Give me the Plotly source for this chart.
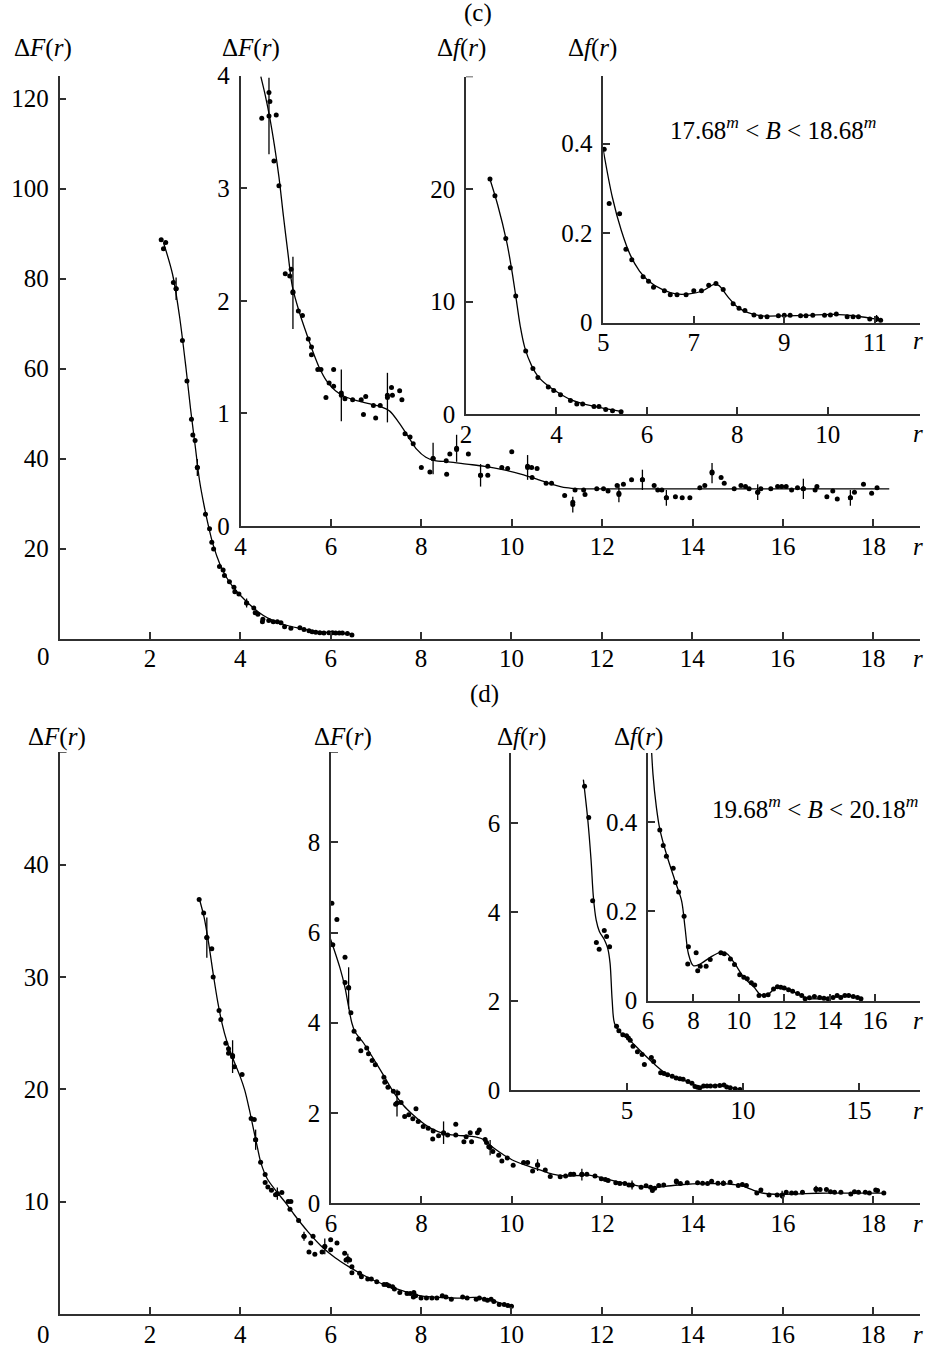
import plotly.graph_objects as go

# ---------------------------------------------------------------- data ----
# (c) outer: Delta F(r)
c1_x = [2.25, 2.30, 2.35, 2.52, 2.58, 2.72, 2.82, 2.92, 2.95, 3.00, 3.05, 3.23, 3.32, 3.37, 3.41,
        3.54, 3.62, 3.65, 3.76, 3.86, 3.88, 3.97, 4.14, 4.30, 4.33, 4.39, 4.50, 4.49, 4.63, 4.73,
        4.82, 4.90, 4.98, 5.12, 5.32, 5.41, 5.52, 5.59, 5.67, 5.76, 5.85, 5.96, 6.04, 6.11, 6.19,
        6.26, 6.37, 6.47]
c1_y = [88.6, 86.6, 88.0, 79.1, 77.7, 66.2, 57.2, 48.7, 45.2, 44.0, 38.0, 27.6, 24.4, 21.4, 19.9,
        16.0, 15.2, 14.0, 12.6, 11.4, 10.4, 9.9, 7.9, 6.8, 5.7, 5.4, 4.3, 3.7, 4.0, 3.7,
        3.7, 3.5, 2.6, 2.3, 2.4, 2.0, 1.7, 1.5, 1.4, 1.3, 1.2, 1.3, 1.3, 1.2, 1.2,
        1.2, 1.1, 0.8]
c1_err_x = [2.58, 3.05, 4.14]
c1_err_y = [77.7, 38.0, 7.9]
c1_err = [2.5, 1.9, 1.0]
c1_fit_x = [2.30, 2.5, 2.65, 2.8, 2.9, 3.0, 3.1, 3.2, 3.3, 3.4, 3.55, 3.7, 3.85, 4.0, 4.2, 4.4,
            4.6, 4.8, 5.0, 5.3, 5.6, 5.9, 6.2, 6.5]
c1_fit_y = [88.0, 81.0, 72.0, 60.0, 51.0, 43.0, 35.0, 29.5, 24.8, 20.8, 16.5, 13.5, 11.3, 9.6,
            7.6, 5.9, 4.6, 3.7, 3.0, 2.3, 1.7, 1.35, 1.15, 0.95]

# (c) inset: Delta F(r), r > 4
c2_x = [4.47, 4.63, 4.65, 4.79, 4.74, 4.85, 4.99, 5.09, 5.12, 5.16, 5.28, 5.37, 5.50, 5.57, 5.57,
        5.71, 5.78, 5.89, 5.96, 6.06, 6.06, 6.23, 6.31, 6.48, 6.67, 6.72, 6.77, 6.94, 6.99, 7.09,
        7.25, 7.36, 7.34, 7.52, 7.57, 7.64, 7.75, 7.82, 8.00, 8.19, 8.26, 8.56, 8.55, 8.63, 8.78,
        9.04, 9.31, 9.47, 9.47, 9.78, 9.91, 10.00, 10.35, 10.44, 10.45, 10.56, 10.76, 10.88, 11.17,
        11.35, 11.40, 11.59, 11.62, 11.88, 12.03, 12.13, 12.33, 12.37, 12.47, 12.65, 12.89, 13.15,
        13.23, 13.32, 13.42, 13.62, 13.77, 13.94, 14.16, 14.27, 14.43, 14.63, 14.70, 14.92, 15.07,
        15.17, 15.25, 15.44, 15.51, 15.73, 15.88, 15.97, 16.07, 16.19, 16.32, 16.45, 16.71, 16.75,
        16.97, 17.10, 17.20, 17.49, 17.58, 17.78, 17.96, 18.08]
c2_y = [3.62, 3.85, 3.77, 3.65, 3.24, 3.02, 2.24, 2.22, 2.28, 2.08, 1.91, 1.87, 1.66, 1.59, 1.52,
        1.39, 1.39, 1.14, 1.27, 1.39, 1.24, 1.18, 1.13, 1.12, 1.12, 0.99, 1.15, 1.07, 0.96, 1.07,
        1.16, 1.16, 1.23, 1.20, 1.12, 0.82, 0.79, 0.73, 0.52, 0.48, 0.60, 0.46, 0.58, 0.64, 0.68,
        0.64, 0.45, 0.45, 0.53, 0.52, 0.51, 0.66, 0.53, 0.52, 0.43, 0.51, 0.38, 0.38, 0.27,
        0.21, 0.32, 0.32, 0.28, 0.33, 0.33, 0.31, 0.36, 0.28, 0.37, 0.41, 0.41, 0.36,
        0.32, 0.32, 0.25, 0.26, 0.25, 0.25, 0.34, 0.36, 0.48, 0.43, 0.38, 0.33, 0.36,
        0.35, 0.33, 0.30, 0.33, 0.33, 0.35, 0.35, 0.35, 0.32, 0.34, 0.33, 0.32, 0.35,
        0.26, 0.31, 0.24, 0.25, 0.30, 0.37, 0.29, 0.34]
c2_err_x = [4.63, 5.16, 6.23, 7.25, 8.26, 8.78, 9.31, 10.35, 11.35, 12.37, 12.89, 13.42, 14.43,
            15.44, 16.45, 17.49]
c2_err_y = [3.64, 2.07, 1.16, 1.14, 0.60, 0.69, 0.45, 0.52, 0.19, 0.29, 0.41, 0.25, 0.47,
            0.30, 0.33, 0.25]
c2_err = [0.34, 0.32, 0.23, 0.22, 0.14, 0.12, 0.10, 0.11, 0.07, 0.08, 0.09, 0.07, 0.09,
          0.07, 0.09, 0.07]
c2_fit_x = [4.45, 4.55, 4.65, 4.75, 4.85, 4.95, 5.05, 5.15, 5.3, 5.45, 5.6, 5.75, 5.9, 6.1, 6.3,
            6.6, 6.9, 7.1, 7.3, 7.5, 7.7, 7.9, 8.1, 8.3, 8.6, 9.0, 9.4, 9.8, 10.2, 10.6, 10.9,
            11.2, 11.5, 12.0, 13.0, 14.0, 15.0, 16.0, 17.0, 18.35]
c2_fit_y = [3.99, 3.82, 3.62, 3.38, 3.10, 2.75, 2.42, 2.12, 1.90, 1.72, 1.55, 1.40, 1.29, 1.20,
            1.15, 1.11, 1.08, 1.06, 1.02, 0.92, 0.80, 0.68, 0.61, 0.58, 0.57, 0.55, 0.53, 0.50,
            0.46, 0.41, 0.37, 0.34, 0.33, 0.33, 0.33, 0.33, 0.33, 0.33, 0.33, 0.33]

# (c) inset: Delta f(r)
c3_x = [2.53, 2.64, 2.88, 2.98, 3.10, 3.32, 3.48, 3.59, 3.82, 3.94, 4.09, 4.31, 4.45, 4.58, 4.83,
        4.94, 5.09, 5.24, 5.43]
c3_y = [20.9, 19.4, 15.6, 13.0, 10.5, 5.6, 4.05, 3.24, 2.4, 2.1, 1.71, 1.2, 0.9, 0.9, 0.66,
        0.66, 0.39, 0.3, 0.21]
c3_fit_x = [2.52, 2.7, 2.9, 3.0, 3.1, 3.2, 3.3, 3.45, 3.6, 3.8, 4.0, 4.3, 4.6, 5.0, 5.45]
c3_fit_y = [21.0, 18.6, 15.3, 13.1, 10.5, 7.8, 5.9, 4.3, 3.3, 2.55, 2.0, 1.3, 0.9, 0.55, 0.22]

# (c) inset: Delta f(r), r > 5
c4_x = [5.02, 5.13, 5.36, 5.50, 5.63, 5.88, 6.00, 6.11, 6.35, 6.48, 6.63, 6.83, 7.00, 7.17, 7.33,
        7.49, 7.65, 7.87, 8.00, 8.13, 8.33, 8.48, 8.62, 8.87, 9.00, 9.13, 9.36, 9.48, 9.63, 9.89,
        10.02, 10.15, 10.39, 10.52, 10.64, 10.89, 11.04, 11.13]
c4_y = [0.387, 0.266, 0.243, 0.164, 0.140, 0.102, 0.092, 0.079, 0.071, 0.062, 0.062, 0.062,
        0.071, 0.071, 0.083, 0.087, 0.074, 0.042, 0.032, 0.027, 0.017, 0.013, 0.013, 0.015,
        0.016, 0.016, 0.015, 0.015, 0.016, 0.016, 0.017, 0.019, 0.013, 0.013, 0.013, 0.008,
        0.008, 0.005]
c4_err_x = [11.04]
c4_err_y = [0.009]
c4_err = [0.008]
c4_fit_x = [5.0, 5.2, 5.4, 5.6, 5.8, 6.0, 6.3, 6.6, 6.9, 7.2, 7.45, 7.55, 7.75, 7.95, 8.2, 8.5,
            9.0, 9.5, 10.1, 10.6, 11.0, 11.15]
c4_fit_y = [0.385, 0.28, 0.205, 0.15, 0.115, 0.093, 0.074, 0.064, 0.064, 0.071, 0.085, 0.083,
            0.058, 0.036, 0.022, 0.015, 0.015, 0.016, 0.018, 0.014, 0.008, 0.005]

# (d) outer: Delta F(r)
d1_x = [3.09, 3.19, 3.26, 3.37, 3.40, 3.53, 3.57, 3.68, 3.74, 3.74, 3.83, 3.87, 4.04, 4.24, 4.31,
        4.34, 4.45, 4.55, 4.55, 4.61, 4.69, 4.78, 4.82, 4.92, 5.06, 5.12, 5.10, 5.29, 5.41, 5.61,
        5.56, 5.52, 5.65, 5.81, 5.87, 6.00, 6.00, 6.14, 6.31, 6.34, 6.42, 6.47, 6.47, 6.64, 6.68,
        6.82, 6.90, 7.02, 7.18, 7.24, 7.29, 7.37, 7.41, 7.53, 7.69, 7.76, 7.84, 7.83, 7.88, 8.00,
        8.12, 8.24, 8.35, 8.47, 8.55, 8.67, 8.92, 9.02, 9.22, 9.29, 9.40, 9.47, 9.55, 9.61, 9.73,
        9.84, 9.92, 10.00]
d1_y = [36.9, 35.7, 33.5, 32.5, 30.0, 27.0, 26.2, 24.1, 23.6, 23.2, 23.0, 22.0, 21.3, 17.4, 17.3,
        15.5, 13.5, 12.4, 11.7, 11.3, 11.0, 10.6, 10.7, 10.8, 10.0, 10.0, 9.3, 8.3, 6.9, 6.9,
        6.3, 5.5, 5.3, 5.5, 6.0, 6.6, 5.7, 6.3, 5.4, 4.8, 4.8, 4.2, 3.65, 3.6, 3.3,
        3.1, 3.1, 2.85, 2.6, 2.6, 2.5, 2.4, 2.2, 1.9, 1.8, 1.8, 1.9, 1.5, 1.6, 1.4,
        1.4, 1.4, 1.4, 1.6, 1.5, 1.3, 1.5, 1.4, 1.3, 1.4, 1.3, 1.2, 1.3, 1.1, 0.83,
        0.83, 0.74, 0.68]
d1_err_x = [3.26, 3.83, 4.34, 4.82, 5.41, 5.87, 6.38]
d1_err_y = [33.5, 22.9, 15.5, 10.7, 6.9, 6.0, 4.9]
d1_err = [1.8, 1.45, 0.9, 0.55, 0.4, 0.7, 0.45]
d1_fit_x = [3.09, 3.2, 3.3, 3.4, 3.5, 3.6, 3.7, 3.85, 4.0, 4.1, 4.2, 4.3, 4.38, 4.46, 4.6, 4.8,
            5.0, 5.2, 5.5, 5.8, 6.1, 6.4, 6.7, 7.0, 7.3, 7.6, 8.0, 8.5, 8.8, 9.2, 9.5, 9.8, 10.05]
d1_fit_y = [37.0, 35.3, 33.0, 30.3, 27.8, 25.8, 24.3, 22.6, 21.1, 19.9, 18.2, 16.3, 14.8, 13.4,
            12.0, 10.9, 9.9, 8.8, 7.3, 6.0, 5.0, 4.2, 3.5, 2.9, 2.45, 2.05, 1.6, 1.45, 1.4,
            1.45, 1.25, 0.9, 0.68]

# (d) inset: Delta F(r), r > 6
d2_x = [6.02, 6.13, 6.04, 6.31, 6.31, 6.39, 6.44, 6.51, 6.61, 6.66, 6.79, 6.83, 6.91, 6.98, 7.17,
        7.19, 7.26, 7.38, 7.48, 7.43, 7.55, 7.88, 7.63, 7.72, 7.81, 7.93, 8.04, 8.15, 8.25, 8.26,
        8.38, 8.49, 8.58, 8.76, 8.76, 8.94, 8.99, 9.08, 9.11, 9.24, 9.28, 9.41, 9.44, 9.49, 9.58,
        9.71, 9.78, 9.90, 10.03, 10.26, 10.35, 10.46, 10.57, 10.74, 10.85, 11.07, 11.19, 11.30,
        11.37, 11.55, 11.66, 11.84, 11.98, 12.07, 12.13, 12.30, 12.39, 12.50, 12.59, 12.66, 12.86,
        12.97, 13.07, 13.11, 13.16, 13.25, 13.36, 13.64, 13.73, 13.88, 14.11, 14.22, 14.33, 14.42,
        14.56, 14.68, 14.83, 15.01, 15.10, 15.19, 15.42, 15.51, 15.69, 15.87, 15.98, 16.07, 16.19,
        16.28, 16.43, 16.73, 16.82, 16.96, 17.05, 17.14, 17.28, 17.50, 17.58, 17.67, 17.82, 17.91,
        18.05, 18.09, 18.23]
d2_y = [6.65, 6.29, 5.73, 5.45, 4.89, 4.78, 4.22, 3.81, 3.64, 3.38, 3.44, 3.31, 3.16, 3.07, 2.79,
        2.68, 2.57, 2.48, 2.44, 2.19, 2.23, 2.09, 1.92, 1.96, 1.87, 1.81, 1.70, 1.66, 1.42, 1.60,
        1.49, 1.55, 1.51, 1.75, 1.51, 1.36, 1.47, 1.56, 1.36, 1.56, 1.62, 1.41, 1.34, 1.25, 1.14,
        1.06, 0.93, 1.00, 0.84, 0.90, 0.90, 0.71, 0.85, 0.73, 0.59, 0.58, 0.60, 0.64,
        0.64, 0.64, 0.64, 0.60, 0.54, 0.52, 0.50, 0.45, 0.43, 0.43, 0.40, 0.40, 0.35,
        0.38, 0.35, 0.28, 0.33, 0.39, 0.40, 0.49, 0.43, 0.45, 0.45, 0.44, 0.43, 0.48,
        0.44, 0.44, 0.46, 0.39, 0.41, 0.39, 0.22, 0.29, 0.18, 0.18, 0.16, 0.24, 0.22,
        0.22, 0.24, 0.31, 0.30, 0.30, 0.25, 0.24, 0.24, 0.20, 0.25, 0.24, 0.24, 0.22,
        0.29, 0.28, 0.22]
d2_err_x = [6.39, 7.46, 8.49, 9.52, 10.57, 11.55, 12.66, 13.64, 14.68, 15.98, 16.73]
d2_err_y = [4.77, 2.22, 1.56, 1.23, 0.84, 0.63, 0.40, 0.47, 0.44, 0.18, 0.30]
d2_err = [0.46, 0.30, 0.25, 0.17, 0.13, 0.13, 0.10, 0.06, 0.06, 0.09, 0.08]
d2_fit_x = [5.98, 6.07, 6.2, 6.31, 6.39, 6.46, 6.53, 6.72, 6.94, 7.17, 7.39, 7.6, 7.8, 8.0, 8.2,
            8.5, 8.8, 9.1, 9.35, 9.6, 9.8, 10.0, 10.3, 10.6, 10.9, 11.2, 11.5, 11.7, 12.0, 12.3,
            12.6, 12.9, 13.1, 13.4, 13.8, 14.2, 14.6, 14.9, 15.1, 15.3, 15.5, 15.7, 16.0, 16.5,
            17.0, 17.5, 18.25]
d2_fit_y = [5.88, 5.62, 5.21, 4.78, 4.35, 4.0, 3.8, 3.55, 3.2, 2.82, 2.45, 2.17, 1.97, 1.80,
            1.66, 1.54, 1.50, 1.48, 1.42, 1.22, 1.08, 0.96, 0.84, 0.74, 0.64, 0.60, 0.61, 0.62,
            0.56, 0.48, 0.42, 0.36, 0.34, 0.37, 0.41, 0.43, 0.43, 0.41, 0.38, 0.30, 0.23, 0.20,
            0.19, 0.21, 0.22, 0.22, 0.22]

# (d) inset: Delta f(r)
d3_x = [3.17, 3.35, 3.52, 3.68, 3.80, 4.02, 4.12, 4.25, 4.55, 4.65, 4.82, 4.98, 5.06, 5.14, 5.26,
        5.45, 5.65, 5.75, 6.05, 6.15, 6.45, 6.60, 6.75, 6.95, 7.12, 7.28, 7.42, 7.63, 7.80, 7.93,
        8.04, 8.14, 8.30, 8.45, 8.60, 8.80, 9.00, 9.18, 9.30, 9.45, 9.66, 9.87]
d3_y = [6.82, 6.12, 4.25, 3.31, 3.16, 3.58, 3.45, 3.22, 1.43, 1.33, 1.24, 1.22, 1.17, 1.12, 0.98,
        0.86, 0.80, 0.57, 0.73, 0.64, 0.39, 0.37, 0.34, 0.31, 0.27, 0.25, 0.24, 0.19, 0.15, 0.08,
        0.06, 0.05, 0.09, 0.09, 0.09, 0.09, 0.10, 0.11, 0.07, 0.05, 0.03, 0.01]
d3_fit_x = [3.12, 3.31, 3.45, 3.55, 3.67, 3.81, 4.03, 4.17, 4.27, 4.36, 4.46, 4.68, 5.11, 5.54,
            6.12, 6.69, 7.27, 7.84, 8.13, 8.42, 9.14, 9.42, 9.86]
d3_fit_y = [6.97, 6.07, 5.17, 4.34, 3.82, 3.56, 3.37, 3.18, 2.85, 2.02, 1.50, 1.31, 1.12, 0.90,
            0.61, 0.37, 0.26, 0.13, 0.04, 0.08, 0.11, 0.06, 0.02]

# (d) inset: Delta f(r), r > 6
d4_x = [6.52, 6.67, 6.81, 7.11, 7.21, 7.35, 7.59, 7.78, 7.75, 8.12, 8.19, 8.30, 8.56, 8.74, 9.21,
        9.36, 9.63, 9.81, 10.04, 10.22, 10.37, 10.55, 10.70, 10.89, 11.11, 11.29, 11.53, 11.70,
        11.85, 12.00, 12.19, 12.37, 12.59, 12.77, 12.92, 13.11, 13.33, 13.56, 13.75, 13.93, 14.15,
        14.33, 14.49, 14.67, 14.84, 15.04, 15.23, 15.38]
d4_y = [0.383, 0.348, 0.324, 0.297, 0.265, 0.244, 0.189, 0.121, 0.082, 0.107, 0.067, 0.077,
        0.077, 0.092, 0.107, 0.105, 0.093, 0.081, 0.058, 0.052, 0.049, 0.040, 0.035, 0.011,
        0.011, 0.013, 0.026, 0.031, 0.030, 0.028, 0.024, 0.021, 0.016, 0.011, 0.004, 0.006,
        0.009, 0.007, 0.005, 0.004, 0.007, 0.011, 0.007, 0.011, 0.011, 0.009, 0.007, 0.004]
d4_fit_x = [6.12, 6.22, 6.37, 6.52, 6.81, 7.19, 7.48, 7.63, 7.78, 8.0, 8.3, 8.74, 9.19, 9.48,
            9.78, 10.22, 10.67, 10.96, 11.26, 11.70, 12.15, 12.74, 13.04, 13.93, 14.52, 15.11,
            15.38]
d4_fit_y = [0.60, 0.508, 0.434, 0.385, 0.329, 0.269, 0.224, 0.164, 0.105, 0.078, 0.082, 0.097,
            0.108, 0.105, 0.086, 0.052, 0.030, 0.013, 0.013, 0.031, 0.026, 0.011, 0.005, 0.005,
            0.010, 0.009, 0.004]

# labelled tick values per frame
c1_xt, c1_yt = [2, 4, 6, 8, 10, 12, 14, 16, 18], [20, 40, 60, 80, 100, 120]
c2_xt, c2_yt = [4, 6, 8, 10, 12, 14, 16, 18], [0, 1, 2, 3, 4]
c3_xt, c3_yt = [2, 4, 6, 8, 10], [0, 10, 20]
c4_xt, c4_yt = [5, 7, 9, 11], [0, 0.2, 0.4]
d1_xt, d1_yt = [2, 4, 6, 8, 10, 12, 14, 16, 18], [10, 20, 30, 40]
d2_xt, d2_yt = [6, 8, 10, 12, 14, 16, 18], [0, 2, 4, 6, 8]
d3_xt, d3_yt = [5, 10, 15], [0, 2, 4, 6]
d4_xt, d4_yt = [6, 8, 10, 12, 14, 16], [0, 0.2, 0.4]
# bare tick marks (no number) at the top of some ordinate axes
top_ticks = {"c3": 30, "d1": 50, "d2": 10}

# ------------------------------------------------------------- layout ----
W, H = 925, 1349
FONT = "Liberation Serif"
FS = 25
INK = "black"
AXC = "#303030"

# frame geometry in pixels: (x_left, x_right), x range, (y_bottom, y_top), y range
FRAMES = {
    "c1": dict(xpx=(59.5, 920), xr=(0, 19.04), ypx=(638.5, 76.0), yr=(0, 125)),
    "c2": dict(xpx=(240.5, 920), xr=(4, 19.03), ypx=(526.0, 75.5), yr=(0, 4)),
    "c3": dict(xpx=(466.0, 920), xr=(2, 12.04), ypx=(414.0, 76.5), yr=(0, 30)),
    "c4": dict(xpx=(603.3, 920), xr=(5, 12.0), ypx=(322.5, 76.0), yr=(0, 0.551)),
    "d1": dict(xpx=(59.5, 920), xr=(0, 19.04), ypx=(1313.8, 752.3), yr=(0, 50)),
    "d2": dict(xpx=(331.0, 920), xr=(6, 19.03), ypx=(1203.0, 752.3), yr=(0, 10)),
    "d3": dict(xpx=(511.0, 920), xr=(0, 17.63), ypx=(1090.0, 752.5), yr=(0, 7.58)),
    "d4": dict(xpx=(648.0, 920), xr=(6, 17.98), ypx=(1000.5, 753.0), yr=(0, 0.556)),
}

SERIES = {
    "c1": (c1_x, c1_y, c1_fit_x, c1_fit_y, (c1_err_x, c1_err_y, c1_err), c1_xt, c1_yt),
    "c2": (c2_x, c2_y, c2_fit_x, c2_fit_y, (c2_err_x, c2_err_y, c2_err), c2_xt, c2_yt),
    "c3": (c3_x, c3_y, c3_fit_x, c3_fit_y, None, c3_xt, c3_yt),
    "c4": (c4_x, c4_y, c4_fit_x, c4_fit_y, (c4_err_x, c4_err_y, c4_err), c4_xt, c4_yt),
    "d1": (d1_x, d1_y, d1_fit_x, d1_fit_y, (d1_err_x, d1_err_y, d1_err), d1_xt, d1_yt),
    "d2": (d2_x, d2_y, d2_fit_x, d2_fit_y, (d2_err_x, d2_err_y, d2_err), d2_xt, d2_yt),
    "d3": (d3_x, d3_y, d3_fit_x, d3_fit_y, None, d3_xt, d3_yt),
    "d4": (d4_x, d4_y, d4_fit_x, d4_fit_y, None, d4_xt, d4_yt),
}


def fmt(v):
    return str(int(v)) if float(v).is_integer() else ("%g" % v)


fig = go.Figure()
layout = {}
shapes = []
tickfont = dict(family=FONT, size=FS, color=INK)

for i, key in enumerate(FRAMES, start=1):
    fr = FRAMES[key]
    px, py, fx, fy, err, xt, yt = SERIES[key]
    xa, ya = ("x%d" % i, "y%d" % i)
    sfx = "" if i == 1 else str(i)

    common = dict(showline=True, linecolor=AXC, linewidth=1.5, ticks="inside", ticklen=7,
                  tickwidth=1.5, tickcolor=AXC, showgrid=False, zeroline=False,
                  automargin=False, tickfont=tickfont, fixedrange=True)
    layout["xaxis" + sfx] = dict(
        common, domain=[fr["xpx"][0] / W, fr["xpx"][1] / W], range=list(fr["xr"]),
        anchor=ya, tickmode="array", tickvals=xt, ticktext=[fmt(v) for v in xt],
        ticklabelstandoff=-3)
    layout["yaxis" + sfx] = dict(
        common, domain=[1 - fr["ypx"][0] / H, 1 - fr["ypx"][1] / H], range=list(fr["yr"]),
        anchor=xa, tickmode="array", tickvals=yt, ticktext=[fmt(v) for v in yt],
        ticklabelstandoff=4)

    if key in top_ticks:
        shapes.append(dict(type="line", xref=xa, yref=ya, xsizemode="pixel",
                           xanchor=fr["xr"][0], x0=0, x1=7, y0=top_ticks[key],
                           y1=top_ticks[key], line=dict(color=AXC, width=1.5)))

    # smooth fitted curve
    fig.add_trace(go.Scatter(x=fx, y=fy, xaxis=xa, yaxis=ya, mode="lines",
                             line=dict(color=INK, width=1.3, shape="spline", smoothing=0.9),
                             hoverinfo="skip"))
    # measured points
    fig.add_trace(go.Scatter(x=px, y=py, xaxis=xa, yaxis=ya, mode="markers",
                             marker=dict(color=INK, size=5), cliponaxis=False))
    # points carrying error bars
    if err is not None:
        ex, ey, ee = err
        fig.add_trace(go.Scatter(x=ex, y=ey, xaxis=xa, yaxis=ya, mode="markers",
                                 marker=dict(color=INK, size=5), cliponaxis=False,
                                 error_y=dict(type="data", array=ee, visible=True, color=INK,
                                              thickness=1.3, width=0)))

ann = []


def text(x, y, s, size=FS, xanchor="center"):
    ann.append(dict(x=x / W, y=1 - y / H, xref="paper", yref="paper", text=s, showarrow=False,
                    xanchor=xanchor, yanchor="middle", font=dict(family=FONT, size=size, color=INK)))


# panel letters
text(478, 13, "(c)")
text(484, 694, "(d)")

# axis titles
dF = "Δ<i>F</i>(<i>r</i>)"
df = "Δ<i>f</i>(<i>r</i>)"
for (x, y, s) in [(43, 48, dF), (251, 48, dF), (461, 48, df), (592, 48, df),
                  (57, 737, dF), (343, 737, dF), (521, 737, df), (638, 737, df)]:
    text(x, y, s)

# abscissa symbol at the right end of every r-axis
for y in [658, 546, 434, 341, 1334, 1223, 1110, 1020]:
    text(918, y, "<i>r</i>")

# common origin label of the two large frames
text(43, 657, "0")
text(43, 1334, "0")

# magnitude ranges
text(773, 128, "17.68<sup><i>m</i></sup> &lt; <i>B</i> &lt; 18.68<sup><i>m</i></sup>")
text(815, 807, "19.68<sup><i>m</i></sup> &lt; <i>B</i> &lt; 20.18<sup><i>m</i></sup>")

layout.update(dict(template="none", width=W, height=H,
                   margin=dict(l=0, r=0, t=0, b=0, pad=0), showlegend=False,
                   paper_bgcolor="white", plot_bgcolor="rgba(0,0,0,0)", annotations=ann,
                   shapes=shapes, font=dict(family=FONT, size=FS, color=INK)))
fig.update_layout(layout)
fig.write_html("out.html")
